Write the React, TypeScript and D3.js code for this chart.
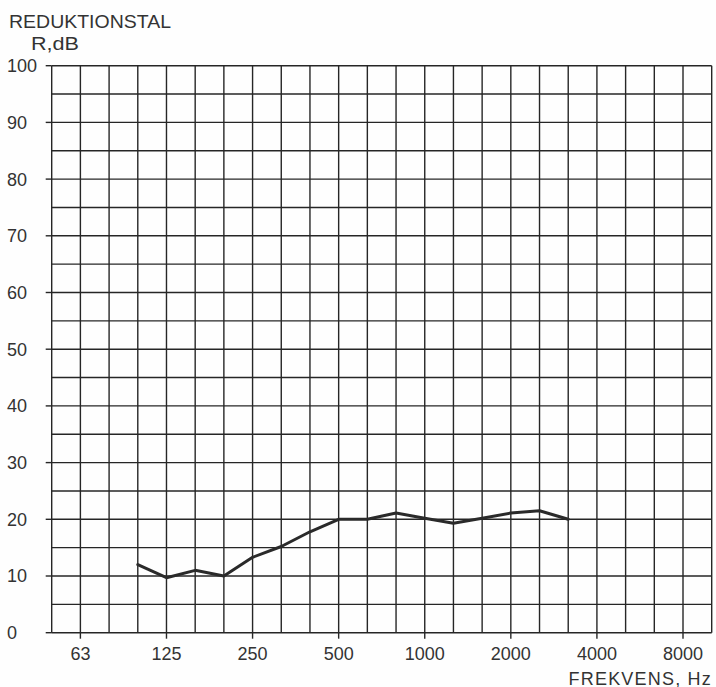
import React from "react";
import * as d3 from "d3";

// Third-octave band centre frequencies spanning the chart grid (Hz)
const bands = [
  "50", "63", "80", "100", "125", "160", "200", "250", "315", "400", "500",
  "630", "800", "1000", "1250", "1600", "2000", "2500", "3150", "4000",
  "5000", "6300", "8000", "10000",
];

// Octave labels on the frequency axis
const xTickLabels = ["63", "125", "250", "500", "1000", "2000", "4000", "8000"];

// Reduction index R (dB) ticks
const yTickValues = [0, 10, 20, 30, 40, 50, 60, 70, 80, 90, 100];

// Measured sound reduction index per third-octave band
const measuredBands = [
  "100", "125", "160", "200", "250", "315", "400", "500",
  "630", "800", "1000", "1250", "1600", "2000", "2500", "3150",
];
const measuredR = [
  12, 9.7, 11, 10, 13.3, 15.2, 17.8, 20,
  20, 21.1, 20.2, 19.3, 20.2, 21.1, 21.5, 20,
];

const W = 716;
const H = 687;
const left = 51.7;
const right = 711.7;
const top = 65.7;
const bottom = 632.7;

const ink = "#262626";
const font = "'Liberation Sans', 'DejaVu Sans', sans-serif";

export default function App() {
  const x = d3.scalePoint<string>().domain(bands).range([left, right]);
  const y = d3.scaleLinear().domain([0, 100]).range([bottom, top]);

  const hLines = d3.range(0, 101, 5);
  const points = measuredBands.map((b, i) => [x(b) as number, y(measuredR[i])] as [number, number]);
  const line = d3.line().curve(d3.curveLinear)(points) || "";

  return (
    <svg
      width={W}
      height={H}
      viewBox={`0 0 ${W} ${H}`}
      style={{ position: "absolute", left: 0, top: 0, background: "#fefefe" }}
    >
      {/* grid: vertical lines at each third-octave band */}
      <g stroke={ink} strokeWidth={1.4}>
        {bands.map((b) => (
          <line key={"v" + b} x1={x(b)} x2={x(b)} y1={top} y2={bottom} />
        ))}
        {hLines.map((v) => (
          <line key={"h" + v} x1={left} x2={right} y1={y(v)} y2={y(v)} />
        ))}
      </g>

      {/* y axis ticks and labels */}
      <g stroke={ink} strokeWidth={1.4}>
        {yTickValues.map((v) => (
          <line key={"yt" + v} x1={left - 6} x2={left} y1={y(v)} y2={y(v)} />
        ))}
      </g>
      <g fill="#333" fontFamily={font} fontSize={18}>
        {yTickValues.map((v) => (
          <text key={"yl" + v} x={7} y={y(v)} dy="0.36em" textAnchor="start">
            {v}
          </text>
        ))}
      </g>

      {/* x axis ticks and labels */}
      <g stroke={ink} strokeWidth={1.4}>
        {xTickLabels.map((t) => (
          <line key={"xt" + t} x1={x(t)} x2={x(t)} y1={bottom} y2={bottom + 6} />
        ))}
      </g>
      <g fill="#333" fontFamily={font} fontSize={18}>
        {xTickLabels.map((t) => (
          <text key={"xl" + t} x={x(t)} y={660} textAnchor="middle">
            {t}
          </text>
        ))}
      </g>

      {/* measured curve */}
      <path d={line} fill="none" stroke="#2a2a2a" strokeWidth={3} strokeLinejoin="round" strokeLinecap="round" />

      {/* axis titles */}
      <g fill="#333" fontFamily={font} fontSize={18}>
        <text x={9} y={28} textLength={162} lengthAdjust="spacingAndGlyphs">REDUKTIONSTAL</text>
        <text x={31} y={50} textLength={48} lengthAdjust="spacingAndGlyphs">R,dB</text>
        <text x={712} y={684.5} textAnchor="end" letterSpacing={1.2}>FREKVENS, Hz</text>
      </g>
    </svg>
  );
}
